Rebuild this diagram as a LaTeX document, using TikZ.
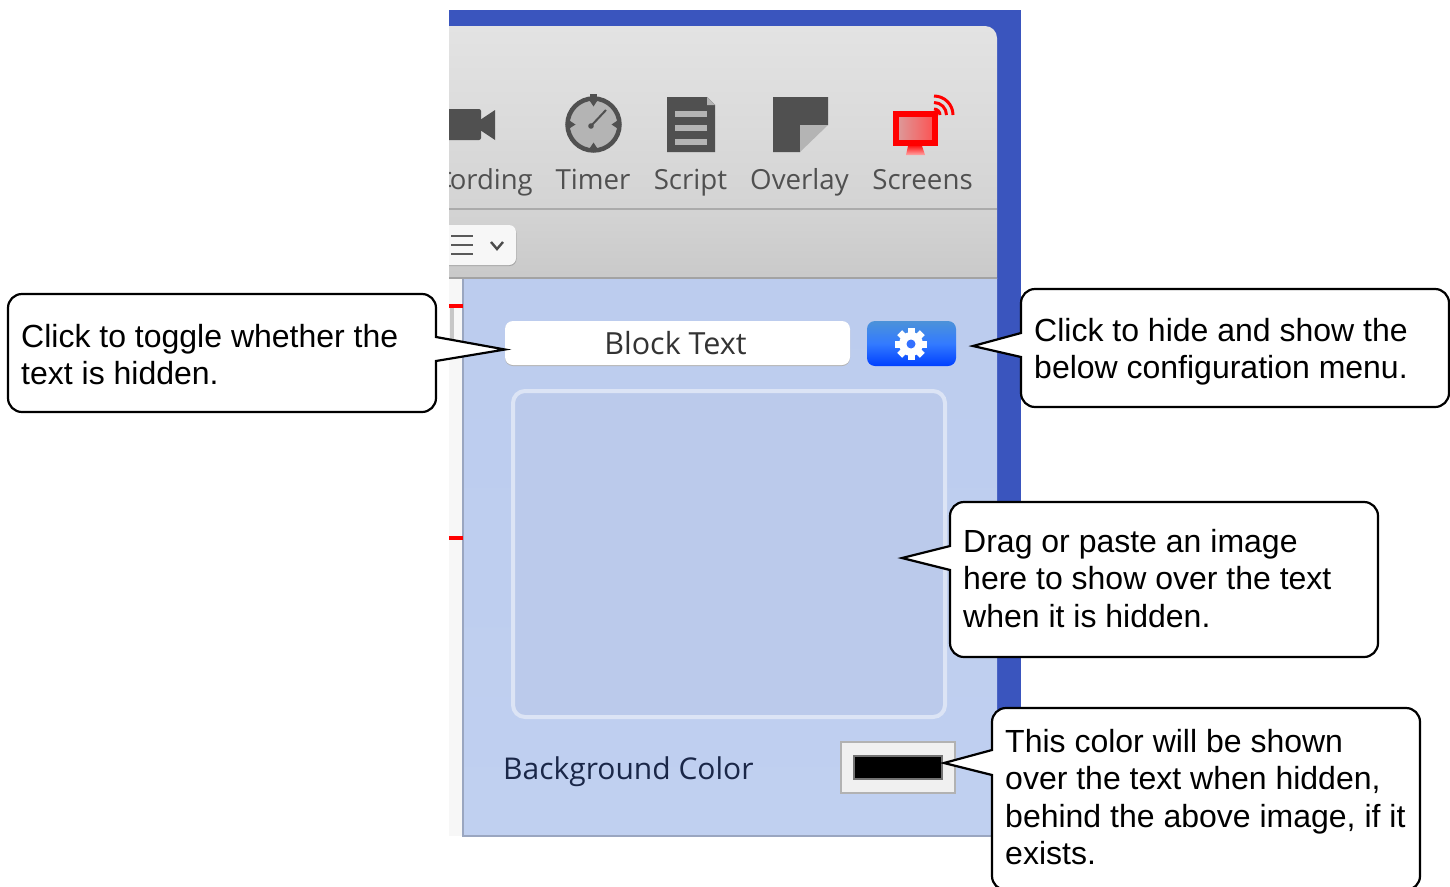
\documentclass[tikz,border=0pt]{standalone}
\usepackage{fontspec}
\setmainfont{Liberation Sans}
\newfontfamily\uifont{Open Sans}
\usetikzlibrary{calc}
\definecolor{frameblue}{HTML}{3A55BE}
\definecolor{panelblue}{HTML}{C0D0F0}
\definecolor{paneltop}{HTML}{BCCCEE}
\definecolor{wellblue}{HTML}{BBCAEB}
\definecolor{wellline}{HTML}{DCE4F5}
\definecolor{icondark}{HTML}{505050}
\definecolor{iconlight}{HTML}{B4B4B4}
\definecolor{labelgrey}{HTML}{505050}
\definecolor{navytext}{HTML}{1A2748}
\newcommand{\firstline}{\rule{0pt}{25pt}}
\tikzset{
  x=1pt,y=-1pt,
  callout/.style={draw=black,line width=2.2pt,fill=white},
  callouttext/.style={anchor=north west,inner sep=0pt,align=left,font=\fontsize{32}{37.5}\selectfont,text=black},
  toollabel/.style={anchor=base,inner sep=0pt,font=\uifont\fontsize{27.7}{30}\selectfont,text=labelgrey},
  darkicon/.style={fill=icondark,draw=none},
  lighticon/.style={fill=iconlight,draw=none},
}
\begin{document}
\begin{tikzpicture}
\useasboundingbox (0,0) rectangle (1450,886);
\begin{scope}
\clip (0,0) rectangle (1450,886);
% blue desktop frame
\fill[frameblue] (449,10) rectangle (1021,836);
% white strip + panel
\fill[white!97!black] (449,278) rectangle (463,836);
\shade[top color=paneltop,bottom color=panelblue] (463,278) rectangle (997,836);
\draw[color=panelblue!80!black,line width=1.5pt] (463,278) -- (463,836) -- (997,836);
% toolbar
\shade[top color=black!11,bottom color=black!17]
  (449,26) -- (985,26) to[out=0,in=90] (997,38) -- (997,209) -- (449,209) -- cycle;
\shade[top color=black!17,bottom color=black!21] (449,209) rectangle (997,278);
\draw[black!33,line width=1.2pt] (449,209) -- (997,209);
\draw[black!36,line width=1.2pt] (449,278) -- (997,278);
% everything that the window's left edge cuts off
\begin{scope}
\clip (449,0) rectangle (1021,886);
\fill[darkicon,rounded corners=2pt] (440,109) rectangle (481,140);
\fill[darkicon] (480,120) -- (495,110) -- (495,140) -- (480,130) -- cycle;
\fill[labelgrey] (450,173) circle[radius=1.4];
\fill[labelgrey] (450,186) circle[radius=1.4];
\fill[black!35,rounded corners=7pt] (430,226) rectangle (516.5,266);
\fill[white!97!black,rounded corners=7pt] (430,225) rectangle (516,265);
\fill[black!22] (450,308) rectangle (454,345);
\fill[red] (437,304) rectangle (463,308);
\fill[red] (437,536) rectangle (463,540);
\end{scope}
% timer
\fill[iconlight] (593.5,124.5) circle[radius=26];
\draw[icondark,line width=4.5pt] (593.5,124.5) circle[radius=26];
\fill[darkicon] (590,94) rectangle (597,101);
\foreach \a in {0,90,180,270}{
  \fill[darkicon] ($(593.5,124.5)+(\a+11:26)$) -- ($(593.5,124.5)+(\a:18)$) -- ($(593.5,124.5)+(\a-11:26)$) -- cycle;
}
\draw[icondark,line width=2pt] (590,127) -- (606,110);
\fill[icondark] (591,126) circle[radius=2.8];
% script
\fill[darkicon] (667,97) -- (707,97) -- (715,105) -- (715,152) -- (667,152) -- cycle;
\fill[lighticon] (707,97) -- (715,105) -- (707,105) -- cycle;
\foreach \yy in {111,125,139}{\fill[lighticon] (675,\yy) rectangle (707,\yy+6);}
% overlay
\fill[darkicon] (773,97) -- (828,97) -- (828,125) -- (800,125) -- (800,152) -- (773,152) -- cycle;
\fill[lighticon] (800,125) -- (828,125) -- (800,152) -- cycle;
% screens
\shade[left color=red!25!white!85!black,right color=red!70!white] (893,111) rectangle (937,145);
\draw[red,line width=6pt] (896,113.5) rectangle (935,143);
\shade[top color=red!90!white,bottom color=red!35!white] (908,146) -- (922,146) -- (925,155) -- (906,155) -- cycle;
\foreach \r in {6,12.5,19}{
  \draw[red,line width=3pt] (934,115-\r) arc[start angle=90,end angle=0,radius=\r,y radius=-\r];
}
% toolbar labels
\node[toollabel,anchor=base east,font=\uifont\fontsize{27.5}{30}\selectfont] (lrec) at (533,189) {ording};
\node[toollabel] (ltimer) at (593,189) {Timer};
\node[toollabel] (lscript) at (690.5,189) {Script};
\node[toollabel] (loverlay) at (799.5,189) {Overlay};
\node[toollabel] (lscreens) at (922.5,189) {Screens};
% view pop-up contents
\foreach \yy in {236,245,254}{\draw[black!65,line width=2.4pt] (451,\yy) -- (473,\yy);}
\draw[black!70,line width=2.4pt] (491,242) -- (497,249) -- (503,242);
% block text field
\fill[black!30,rounded corners=8pt] (505,322) rectangle (850,366);
\fill[white,rounded corners=8pt] (505,321) rectangle (850,365);
\node[anchor=base,inner sep=0pt,font=\uifont\fontsize{30.5}{32}\selectfont,text=black!80] (blocklabel) at (675.5,354) {Block Text};
% gear button
\shade[top color=blue!50!cyan!65!white!85!black,bottom color=blue!75!cyan,rounded corners=8pt,middle color=blue!65!cyan!80!white] (867,321) rectangle (956,366);
\foreach \a in {0,45,...,315}{
  \fill[white,rotate around={\a:(911,344)}] (907.5,328) rectangle (914.5,340);
}
\fill[white] (911,344) circle[radius=12];
\fill[blue!70!cyan!80!white] (911,344) circle[radius=4.5];
% image well
\fill[wellblue,draw=wellline,line width=4pt,rounded corners=12pt] (513,391) rectangle (945,717);
% background color
\node[anchor=base west,inner sep=0pt,font=\uifont\fontsize{30}{32}\selectfont,text=navytext] (bglabel) at (503,779) {Background Color};
\fill[black!6,draw=black!30,line width=2.5pt] (841,742) rectangle (955,793);
\fill[black,draw=black!55,line width=2.5pt] (854,756) rectangle (942,779);
% callouts
\draw[callout] (22,294) -- (422,294) to[out=0,in=90] (436,308) -- (436,337) -- (505,349.5) -- (436,361) -- (436,398) to[out=-90,in=0] (422,412) -- (22,412) to[out=180,in=-90] (8,398) -- (8,308) to[out=90,in=180] cycle;
\node[callouttext] (ta) at (21,322) {\firstline Click to toggle whether the\\text is hidden.};
\draw[callout] (1035,289) -- (1435,289) to[out=0,in=90] (1449,303) -- (1449,393) to[out=-90,in=0] (1435,407) -- (1035,407) to[out=180,in=-90] (1021,393) -- (1021,357) -- (973,346) -- (1021,333) -- (1021,303) to[out=90,in=180] cycle;
\node[callouttext] (tb) at (1034,316) {\firstline Click to hide and show the\\below configuration menu.};
\draw[callout] (964,502) -- (1364,502) to[out=0,in=90] (1378,516) -- (1378,643) to[out=-90,in=0] (1364,657) -- (964,657) to[out=180,in=-90] (950,643) -- (950,570) -- (902,558) -- (950,546) -- (950,516) to[out=90,in=180] cycle;
\node[callouttext] (tc) at (963,527) {\firstline Drag or paste an image\\here to show over the text\\when it is hidden.};
\draw[callout] (1006,708) -- (1406,708) to[out=0,in=90] (1420,722) -- (1420,876) to[out=-90,in=0] (1406,890) -- (1006,890) to[out=180,in=-90] (992,876) -- (992,775) -- (944,763) -- (992,750) -- (992,722) to[out=90,in=180] cycle;
\node[callouttext] (td) at (1005,727) {\firstline This color will be shown\\over the text when hidden,\\behind the above image, if it\\exists.};
\end{scope}
\end{tikzpicture}
\end{document}
